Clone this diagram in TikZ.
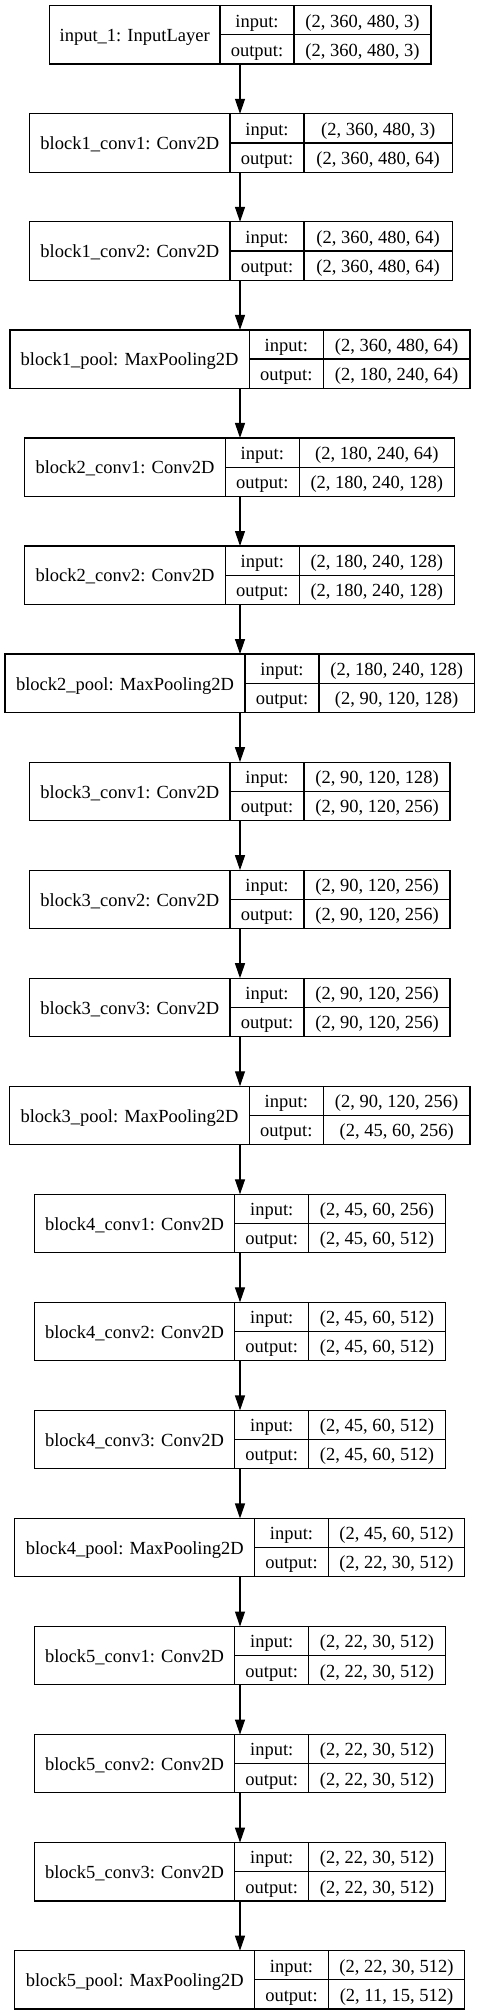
\documentclass[tikz,border=0pt]{standalone}
\usepackage{fontspec}
\setmainfont{Liberation Serif}
\usetikzlibrary{arrows.meta}
\tikzset{
  layerbox/.style={draw=black, line width=1.2pt, rectangle, inner sep=0pt, outer sep=0pt},
  divline/.style={draw=black, line width=1.2pt},
  txt/.style={anchor=base, inner sep=0pt, outer sep=0pt, font=\fontsize{18.5}{20}\selectfont},
  arr/.style={draw=black, line width=1.2pt, -{Triangle[length=15pt,width=10pt]}}
}
\newcommand{\kerlayer}[9]{%
  \pgfmathsetmacro{\lT}{5.7+108.05*#2}%
  \pgfmathsetmacro{\lB}{\lT+58.3}%
  \pgfmathsetmacro{\lM}{\lT+29.2}%
  \pgfmathsetmacro{\lW}{#6-#3}%
  \pgfmathsetmacro{\lX}{(#3+#6)/2}%
  \node[layerbox, minimum width=\lW pt, minimum height=58.3pt] (#1) at (\lX,\lM) {};
  \draw[divline] (#4,\lT) -- (#4,\lB) (#5,\lT) -- (#5,\lB) (#4,\lM) -- (#6,\lM);
  \node[txt] (#1-lab) at ({(#3+#4)/2},{\lM+6.8}) {#7};
  \node[txt] (#1-ink) at ({(#4+#5)/2},{(\lT+\lM)/2+6.8}) {input:};
  \node[txt] (#1-outk) at ({(#4+#5)/2},{(\lM+\lB)/2+6.8}) {output:};
  \node[txt] (#1-inv) at ({(#5+#6)/2},{(\lT+\lM)/2+6.8}) {#8};
  \node[txt] (#1-outv) at ({(#5+#6)/2},{(\lM+\lB)/2+6.8}) {#9};
}
\begin{document}
\begin{tikzpicture}[x=1pt,y=-1pt]
\useasboundingbox (0,0) rectangle (480,2015);
\fill[white] (0,0) rectangle (480,2015);
\coordinate (axis) at (240,0);
\kerlayer{n0}{0}{49.3}{220}{294}{431}{input\_1: InputLayer}{(2, 360, 480, 3)}{(2, 360, 480, 3)}
\kerlayer{n1}{1}{29.7}{230}{304}{452.3}{block1\_conv1: Conv2D}{(2, 360, 480, 3)}{(2, 360, 480, 64)}
\kerlayer{n2}{2}{29.7}{230}{304}{452.3}{block1\_conv2: Conv2D}{(2, 360, 480, 64)}{(2, 360, 480, 64)}
\kerlayer{n3}{3}{10}{249.3}{323.3}{470}{block1\_pool: MaxPooling2D}{(2, 360, 480, 64)}{(2, 180, 240, 64)}
\kerlayer{n4}{4}{24.7}{225.3}{299.3}{454.3}{block2\_conv1: Conv2D}{(2, 180, 240, 64)}{(2, 180, 240, 128)}
\kerlayer{n5}{5}{24.7}{225.3}{299.3}{454.3}{block2\_conv2: Conv2D}{(2, 180, 240, 128)}{(2, 180, 240, 128)}
\kerlayer{n6}{6}{5}{245}{319}{474.3}{block2\_pool: MaxPooling2D}{(2, 180, 240, 128)}{(2, 90, 120, 128)}
\kerlayer{n7}{7}{29.7}{230}{304}{450}{block3\_conv1: Conv2D}{(2, 90, 120, 128)}{(2, 90, 120, 256)}
\kerlayer{n8}{8}{29.7}{230}{304}{450}{block3\_conv2: Conv2D}{(2, 90, 120, 256)}{(2, 90, 120, 256)}
\kerlayer{n9}{9}{29.7}{230}{304}{450}{block3\_conv3: Conv2D}{(2, 90, 120, 256)}{(2, 90, 120, 256)}
\kerlayer{n10}{10}{9.7}{249.3}{323.3}{470}{block3\_pool: MaxPooling2D}{(2, 90, 120, 256)}{(2, 45, 60, 256)}
\kerlayer{n11}{11}{34.3}{234.7}{308.7}{445.3}{block4\_conv1: Conv2D}{(2, 45, 60, 256)}{(2, 45, 60, 512)}
\kerlayer{n12}{12}{34.3}{234.7}{308.7}{445.3}{block4\_conv2: Conv2D}{(2, 45, 60, 512)}{(2, 45, 60, 512)}
\kerlayer{n13}{13}{34.3}{234.7}{308.7}{445.3}{block4\_conv3: Conv2D}{(2, 45, 60, 512)}{(2, 45, 60, 512)}
\kerlayer{n14}{14}{14.7}{254.7}{328.3}{464.7}{block4\_pool: MaxPooling2D}{(2, 45, 60, 512)}{(2, 22, 30, 512)}
\kerlayer{n15}{15}{34.3}{234.7}{308.7}{445.3}{block5\_conv1: Conv2D}{(2, 22, 30, 512)}{(2, 22, 30, 512)}
\kerlayer{n16}{16}{34.3}{234.7}{308.7}{445.3}{block5\_conv2: Conv2D}{(2, 22, 30, 512)}{(2, 22, 30, 512)}
\kerlayer{n17}{17}{34.3}{234.7}{308.7}{445.3}{block5\_conv3: Conv2D}{(2, 22, 30, 512)}{(2, 22, 30, 512)}
\kerlayer{n18}{18}{14.7}{254.7}{328.3}{464.7}{block5\_pool: MaxPooling2D}{(2, 22, 30, 512)}{(2, 11, 15, 512)}
\foreach \a [evaluate=\a as \b using int(\a+1)] in {0,...,17} {
  \draw[arr] (n\a.south -| axis) -- (n\b.north -| axis);
}
\end{tikzpicture}
\end{document}
